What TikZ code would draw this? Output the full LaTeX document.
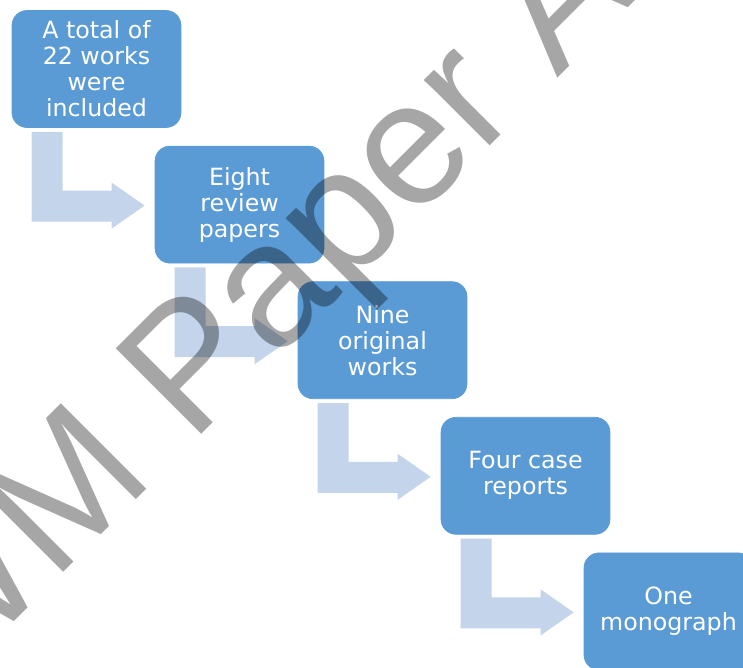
\documentclass[tikz,border=0pt]{standalone}
\usepackage{fontspec}
\usepackage{tikz}
\usetikzlibrary{calc}
\newfontfamily\boxfont{DejaVu Sans}
\newfontfamily\wmfont{Liberation Sans}
\definecolor{boxblue}{RGB}{91,155,213}
\definecolor{arrowblue}{RGB}{196,213,235}

% bent arrow from the bottom of one box to the left side of the next
\newcommand{\bentarrow}[2]{%
    \coordinate (tl) at ($(#1.south west)+(20,4)$);
    \coordinate (tip) at ($(#2.west)+(-10,1)$);
    \coordinate (hb) at ($(tip)+(-33,16)$);
    \fill[bent] (tl) -- ++(31,0) |- ($(tip)+(-33,-15)$) -- ++(0,-8) -- (tip)
        -- ++(-33,23) -- (hb) -- (tl |- hb) -- cycle;
}

\begin{document}
\begin{tikzpicture}[x=0.02cm,y=-0.02cm,
    box/.style={fill=boxblue,draw=boxblue,rounded corners=0.3cm,
        minimum width=3.38cm,minimum height=2.34cm,inner sep=2pt,
        align=center,text=white,font=\boxfont\fontsize{13.5}{14.8}\selectfont},
    bent/.style={fill=arrowblue}]

    \useasboundingbox (0,0) rectangle (743,668);
    \clip (0,0) rectangle (743,668);

    \def\dx{143}
    \def\dy{135.6}

    \node[box] (total) at (96.5,69) {A total of\\22 works\\were\\included};
    \node[box] (review) at ({96.5+\dx},{69+\dy}) {Eight\\review\\papers};
    \node[box] (orig) at ({96.5+2*\dx},{69+2*\dy}) {Nine\\original\\works};
    \node[box] (case) at ({96.5+3*\dx},{69+3*\dy}) {Four case\\reports};
    \node[box] (mono) at ({96.5+4*\dx},{69+4*\dy}) {One\\monograph};

    \bentarrow{total}{review}
    \bentarrow{review}{orig}
    \bentarrow{orig}{case}
    \bentarrow{case}{mono}

    % watermark across the page
    \node[rotate=45,anchor=base west,inner sep=0pt,text=black,text opacity=0.35,
        font=\wmfont\fontsize{100}{100}\selectfont] (wm) at (-64,700) {WM Paper A};

\end{tikzpicture}
\end{document}
